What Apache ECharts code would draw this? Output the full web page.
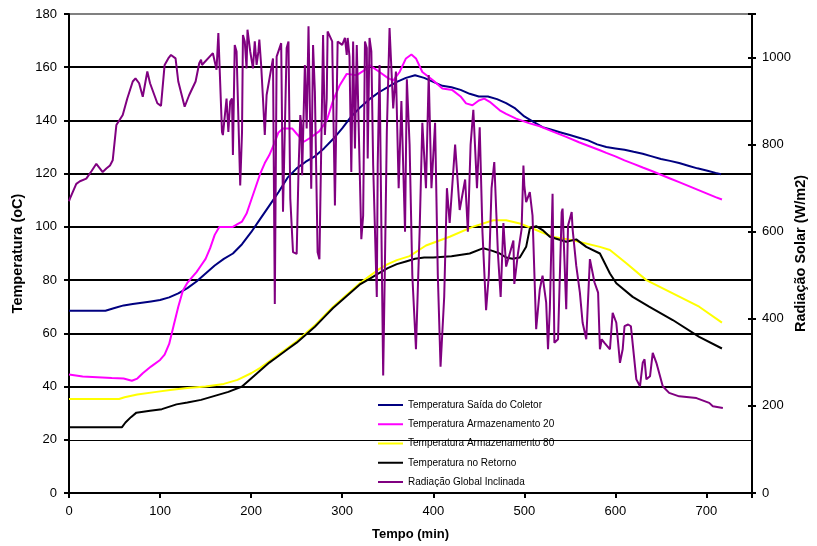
<!DOCTYPE html>
<html><head><meta charset="utf-8">
<script src="https://cdn.jsdelivr.net/npm/echarts@6/dist/echarts.min.js"></script>
<style>html,body{margin:0;padding:0;background:#fff}#c{width:817px;height:546px}</style>
</head><body><div id="c"></div>
<script>
// ---- data (tempo em minutos) ----
const seriesNames = ['Temperatura Saída do Coletor','Temperatura Armazenamento 20','Temperatura Armazenamento 80','Temperatura no Retorno','Radiação Global Inclinada'];
const tempTicks = [0,20,40,60,80,100,120,140,160,180];
const radTicks = [0,200,400,600,800,1000];
const timeTicks = [0,100,200,300,400,500,600,700];

const tColetor = [0,40,50,60,70,80,90,100,110,120,130,140,150,160,170,180,190,200,210,220,230,240,250,260,270,280,290,300,310,320,330,340,350,360,370,380,390,400,410,420,430,440,450,460,470,480,490,500,510,520,530,540,550,560,570,580,590,600,610,620,630,640,650,660,670,680,690,700,710,716];
const vColetor = [68.5,68.5,69.5,70.5,71,71.5,72,72.5,73.5,75,77,79.5,82.5,85.5,88,90,93.5,98,103,108,113,118.5,122,124.5,126.5,129.5,133,137,141.5,145,148,150.5,152.5,154.5,156,157,156,154.5,153,152.5,151.5,150,149,149,148,146.5,144.5,141.5,139.5,137.5,136.5,135.5,134.5,133.5,132.5,131,130,129.5,129,128.2,127.5,126.5,125.5,124.8,124,123,122,121.2,120.3,119.8];

const tArm20 = [0,15,47,60,69,75,81,90,100,105,110,115,120,125,130,135,140,145,150,155,160,165,180,185,190,195,200,205,210,215,220,225,230,235,245,250,258,265,275,283,290,297,305,316,325,330,341,350,356,363,370,376,381,388,400,410,421,430,436,443,450,456,462,473,480,491,505,517,530,546,560,570,583,590,600,610,620,630,640,650,660,670,680,690,700,710,717];
const vArm20 = [44.5,43.8,43.2,43,42.2,43,45,47.5,50,52,56,63,70,76,79,81,83,85.5,88,92,97,100,100,101,102,105,110,115,120,124,127,131,135.5,137,137,135,132,133.5,136,140,147.5,153,157.5,157,159,160.8,158.2,156,155,158.2,163.3,164.8,163.3,158.2,155,152,151.4,149,146.4,145.7,147.5,148.2,147,143.8,142.5,140.7,139,137.8,136,133.8,131.8,130.5,128.8,127.8,126.5,125,123.7,122.3,121,119.6,118.2,116.8,115.4,114,112.6,111.2,110.3];

const tArm80 = [0,55,61,75,96,111,130,150,170,185,200,210,220,230,240,250,260,270,280,290,300,310,320,330,340,350,360,374,392,418,443,466,480,495,509,531,553,583,594,612,634,663,692,717];
const vArm80 = [35.3,35.3,36,37,38,38.7,39.5,40,41,42.5,45,47,49.5,52,54.5,57,60,63,66.5,70,73,76,79,81.5,84,86,87.5,89,93,96.3,100,102.5,102.5,101.3,99.4,96.3,95,92.5,91.3,86.3,80,75,70,64];

const tRetorno = [0,58,62,68,74,89,102,118,130,145,160,175,190,200,210,220,230,240,250,260,270,280,290,300,310,320,330,340,350,360,370,380,390,400,420,440,455,465,473,480,487,495,502,506,513,520,528,546,557,568,583,594,601,619,637,663,692,717];
const vRetorno = [24.7,24.7,26.5,28.5,30.2,30.9,31.5,33.3,34,35,36.5,38,40,43,46,49,51.5,54,56.5,59.5,62.5,66,69.5,72.5,75.5,78.5,80.5,82.5,84.5,86,87,88,88.5,88.5,89,90,92,91,90,88.5,88,88.5,92.5,99.4,100.3,98.8,96.3,94.4,95.3,92.5,90,82.5,78.8,73.7,70,65,58.7,54.3];

const tRad = [0,1,8,12,19,25,30,37,41,45,48,52,59,64,70,73,77,81,86,89,97,101,105,109,112,117,120,127,132,139,143,145,146,158,160,162,164,168,169,173,175,177,179,180,182,184,188,190,191,193,195,196,199,202,204,206,208,209,211,213,215,217,224,226,228,230,233,235,239,241,243,246,250,252,254,255,256,259,261,263,266,268,270,273,275,279,281,283,284,289,292,295,300,303,305,306,308,310,312,314,316,321,323,325,327,328,330,332,334,338,339,341,343,345,347,349,352,356,359,362,365,369,371,374,377,381,385,388,392,395,398,402,405,408,412,415,418,424,429,435,438,441,444,448,451,454,458,461,464,467,471,474,477,480,488,489,493,497,499,500,502,506,509,513,517,520,524,526,528,530,531,533,537,541,542,546,548,552,553,557,561,564,568,572,574,577,581,583,585,588,590,594,597,601,605,608,610,614,617,619,623,627,630,632,634,638,641,645,652,659,670,689,703,707,718];
const vRad = [670,676,710,716,722,740,756,737,745,752,764,845,868,906,945,952,941,910,968,941,895,889,983,998,1006,998,945,887,914,945,987,995,983,1010,1014,972,1056,829,822,906,829,899,906,776,1029,1014,706,829,1052,1037,975,1064,1014,975,1037,983,1014,1041,983,906,822,914,998,434,1002,998,1033,646,1022,1037,676,553,549,737,868,845,730,983,837,1072,699,1029,922,553,537,1052,822,906,1060,1037,660,1037,1029,1045,1006,1045,1002,737,1037,791,1029,583,637,1037,1022,768,1045,1014,753,450,753,983,614,270,537,829,1068,883,968,700,900,600,950,800,500,330,600,850,700,960,700,850,500,290,450,700,620,800,650,720,600,800,880,700,840,600,420,500,700,760,550,450,620,520,580,480,550,606,752,706,668,691,637,376,468,499,437,330,422,599,687,345,353,645,653,422,614,645,606,522,460,391,353,537,537,484,460,330,353,345,345,330,414,391,299,330,383,387,383,383,261,245,299,307,261,268,322,299,245,230,222,218,207,199,195,190,190,194,194];

const zip = (t, v) => t.map((x, i) => [x, v[i]]);

const chart = echarts.init(document.getElementById('c'), null, {renderer: 'canvas'});
const FONT = "'Liberation Sans', Arial, sans-serif";
const lineSeries = (name, t, v, color, yIdx, extra) => Object.assign({
  name, type: 'line', data: zip(t, v), yAxisIndex: yIdx, showSymbol: false, symbol: 'none',
  lineStyle: {color, width: 2}, itemStyle: {color}, animation: false
}, extra || {});

chart.setOption({
  animation: false,
  backgroundColor: '#fff',
  textStyle: {fontFamily: FONT},
  grid: {left: 69, right: 65, top: 14, bottom: 53, containLabel: false, outerBoundsMode: 'none'},
  legend: {
    orient: 'vertical', left: 378, top: 394, icon: 'rect', itemWidth: 25, itemHeight: 2,
    itemGap: 9.25, padding: [6, 28, 1, 0], backgroundColor: '#fff',
    textStyle: {fontFamily: FONT, fontSize: 10, color: '#000'},
    data: seriesNames
  },
  xAxis: {
    type: 'value', min: 0, max: 750, interval: 100,
    name: 'Tempo (min)', nameLocation: 'middle', nameGap: 35, nameMoveOverlap: false,
    nameTextStyle: {fontFamily: FONT, fontWeight: 'bold', fontSize: 13, color: '#000'},
    axisLine: {lineStyle: {color: '#000', width: 2}},
    axisTick: {show: true, length: 5, lineStyle: {color: '#000', width: 2}},
    axisLabel: {fontFamily: FONT, fontSize: 13, color: '#000', margin: 12,
      formatter: v => timeTicks.includes(v) ? String(v) : ''},
    splitLine: {show: false}
  },
  yAxis: [{
    type: 'value', min: 0, max: 180, interval: 20, position: 'left',
    name: 'Temperatura (oC)', nameLocation: 'middle', nameGap: 44, nameRotate: 90, nameMoveOverlap: false,
    nameTextStyle: {fontFamily: FONT, fontWeight: 'bold', fontSize: 14.5, color: '#000'},
    axisLine: {show: true, lineStyle: {color: '#000', width: 2}},
    axisTick: {show: true, length: 5, lineStyle: {color: '#000', width: 2}},
    axisLabel: {fontFamily: FONT, fontSize: 13, color: '#000', margin: 12,
      formatter: v => tempTicks.includes(v) ? String(v) : ''},
    splitLine: {show: true, lineStyle: {width: 2, color: ['rgba(0,0,0,0)','rgba(0,0,0,0)','#000','#000','#000','#000','#000','#000','#000','#808080']}}
  }, {
    type: 'value', min: 0, max: 1100, interval: 200, position: 'right',
    name: 'Radiação Solar (W/m2)', nameLocation: 'middle', nameGap: 41, nameRotate: 90, nameMoveOverlap: false,
    nameTextStyle: {fontFamily: FONT, fontWeight: 'bold', fontSize: 14.5, color: '#000'},
    axisLine: {show: true, lineStyle: {color: '#000', width: 2}},
    axisTick: {show: true, length: 4, lineStyle: {color: '#000', width: 2}},
    axisLabel: {fontFamily: FONT, fontSize: 13, color: '#000', margin: 10,
      formatter: v => radTicks.includes(v) ? String(v) : ''},
    splitLine: {show: false}
  }, {
    type: 'value', min: 0, max: 1100, interval: 200, position: 'right',
    axisLine: {show: false}, axisLabel: {show: false}, splitLine: {show: false},
    axisTick: {show: true, inside: true, length: 4, lineStyle: {color: '#000', width: 2}}
  }],
  series: [
    lineSeries(seriesNames[0], tColetor, vColetor, '#000080', 0, {
      markLine: {silent: true, symbol: 'none', label: {show: false}, animation: false,
        lineStyle: {color: '#000', width: 1, type: 'solid'}, data: [{yAxis: 20}]}
    }),
    lineSeries(seriesNames[1], tArm20, vArm20, '#FF00FF', 0),
    lineSeries(seriesNames[2], tArm80, vArm80, '#FFFF00', 0),
    lineSeries(seriesNames[3], tRetorno, vRetorno, '#000000', 0),
    lineSeries(seriesNames[4], tRad, vRad, '#800080', 1)
  ]
});
</script>
</body></html>
